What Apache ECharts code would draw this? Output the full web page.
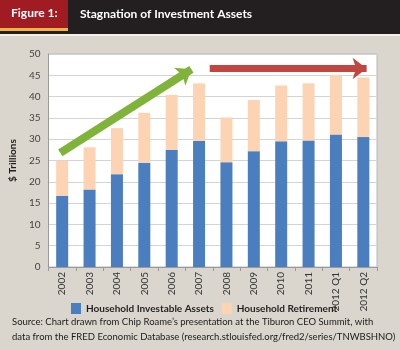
<!DOCTYPE html>
<html><head><meta charset="utf-8">
<script src="https://cdn.jsdelivr.net/npm/echarts@6/dist/echarts.min.js"></script>
<style>html,body{margin:0;padding:0;background:#dad6ce;}#c{width:400px;height:350px;}</style>
</head><body><div id="c"></div>
<script>
const categories = ['2002','2003','2004','2005','2006','2007','2008','2009','2010','2011','2012 Q1','2012 Q2'];
const investable = [16.7, 18.2, 21.8, 24.5, 27.5, 29.6, 24.6, 27.2, 29.5, 29.7, 31.1, 30.5];
const retirement = [8.3, 9.9, 10.8, 11.7, 12.9, 13.5, 10.5, 12.0, 13.1, 13.4, 14.0, 14.0];
const seriesNames = ['Household Investable Assets', 'Household Retirement'];
const yTicks = {min: 0, max: 50, interval: 5};
// arrows: [x index (fractional), value]
const growthArrow = [[-0.07, 26.8], [4.72, 46.4]];
const flatArrow = [[5.39, 46.6], [11.12, 46.6]];
const titleText = 'Stagnation of Investment Assets';
const figureLabel = 'Figure 1:';
const sourceLines = [
  "Source: Chart drawn from Chip Roame\u2019s presentation at the Tiburon CEO Summit, with",
  "data from the FRED Economic Database (research.stlouisfed.org/fred2/series/TNWBSHNO)"
];

const font = 'Lato';
const chart = echarts.init(document.getElementById('c'), null, {renderer: 'canvas'});
chart.setOption({
  backgroundColor: '#dad6ce',
  animation: false,
  textStyle: {fontFamily: font},
  graphic: [
    {type: 'rect', shape: {x: 0, y: 0, width: 400, height: 34}, style: {fill: '#231f20'}, z: 0},
    {type: 'rect', shape: {x: 0, y: 0, width: 68, height: 28}, style: {fill: '#a11c22'}, z: 1},
    {type: 'rect', shape: {x: 0, y: 28, width: 68, height: 3}, style: {fill: '#f0b53f'}, z: 1},
    {type: 'rect', shape: {x: 0, y: 34, width: 400, height: 2}, style: {fill: '#f2efe9'}, z: 1},
    {type: 'text', left: 11, top: 7, style: {text: figureLabel, fill: '#ffffff', font: 'bold 12px ' + font}, z: 2},
    {type: 'text', left: 80, top: 8, style: {text: titleText, fill: '#ffffff', font: 'bold 12px ' + font}, z: 2},
    {type: 'text', left: 12, top: 317, style: {text: sourceLines[0], fill: '#1a1a1a', font: '9.5px ' + font}, z: 2},
    {type: 'text', left: 12, top: 332, style: {text: sourceLines[1], fill: '#1a1a1a', font: '9.5px ' + font}, z: 2}
  ],
  legend: {
    data: seriesNames,
    left: 66, top: 298,
    itemWidth: 10, itemHeight: 11, itemGap: 8,
    icon: 'rect',
    textStyle: {fontFamily: font, fontWeight: 'bold', fontSize: 10, color: '#231f20'}
  },
  grid: {left: 45, right: 23, top: 54, bottom: 83, show: true, backgroundColor: '#ffffff', borderColor: '#b8b8b8', borderWidth: 1},
  xAxis: [{
    type: 'category', data: categories,
    axisLine: {onZero: false, lineStyle: {color: '#9a9a9a'}},
    axisTick: {show: true, length: 4, lineStyle: {color: '#9a9a9a'}},
    axisLabel: {rotate: 90, fontSize: 10, color: '#333', margin: 5, fontFamily: font}
  }, {
    type: 'value', min: -0.5, max: 11.5, show: false
  }],
  yAxis: {
    type: 'value', min: yTicks.min, max: yTicks.max, interval: yTicks.interval,
    name: '$ Trillions', nameLocation: 'middle', nameGap: 26, nameRotate: 90,
    nameTextStyle: {fontWeight: 'bold', fontSize: 10, color: '#231f20', fontFamily: font},
    axisLine: {show: true, onZero: false, lineStyle: {color: '#9a9a9a'}},
    axisTick: {show: false},
    axisLabel: {fontSize: 10, color: '#444', margin: 8, fontFamily: font},
    splitLine: {lineStyle: {color: '#d4d4d4'}}
  },
  series: [
    {name: seriesNames[0], type: 'bar', stack: 't', data: investable, barWidth: 12, itemStyle: {color: '#4a7ebf'}},
    {name: seriesNames[1], type: 'bar', stack: 't', data: retirement, barWidth: 12, itemStyle: {color: '#fcd3b3'}},
    {type: 'line', xAxisIndex: 1, data: [], silent: true, z: 5,
     markLine: {silent: true, symbol: ['none', 'arrow'], symbolSize: [16, 14], label: {show: false}, animation: false,
       data: [
         [{coord: growthArrow[0], lineStyle: {color: '#7fb33a', width: 8, type: 'solid'}, itemStyle: {color: '#7fb33a'}},
          {coord: growthArrow[1]}],
         [{coord: flatArrow[0], lineStyle: {color: '#c0463f', width: 7, type: 'solid'}, itemStyle: {color: '#c0463f'}},
          {coord: flatArrow[1]}]
       ]}}
  ]
});
</script></body></html>
